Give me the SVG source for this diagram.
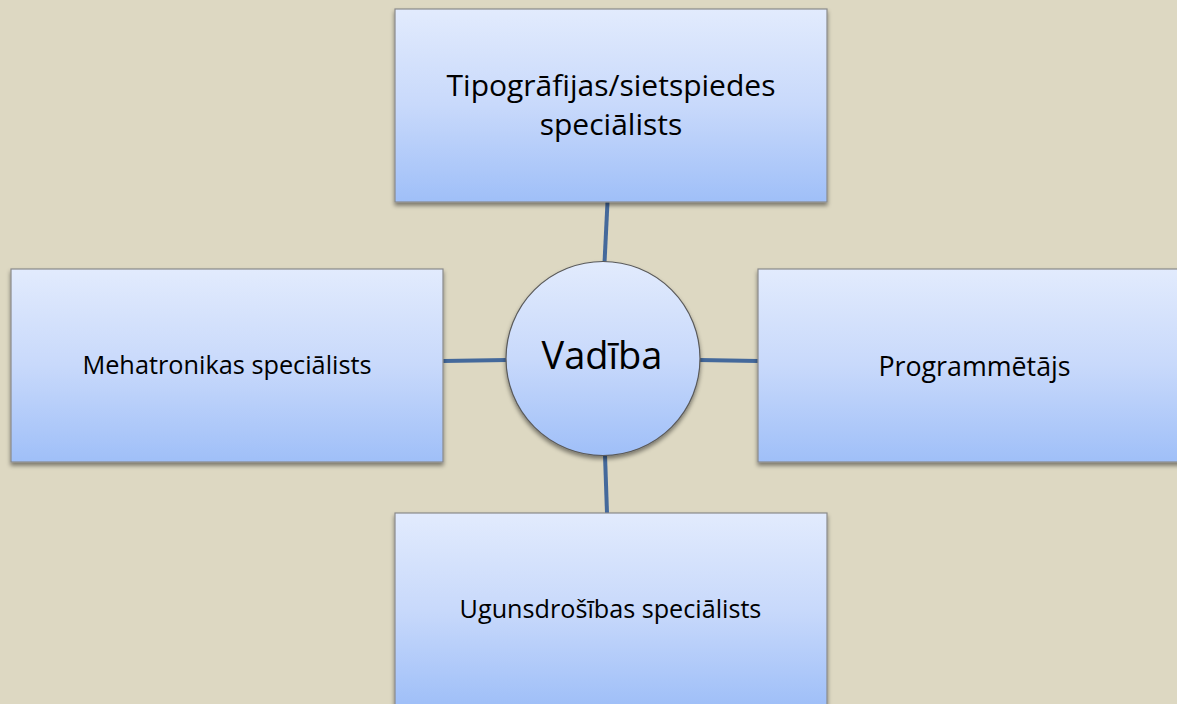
<svg xmlns="http://www.w3.org/2000/svg" width="1177" height="704" viewBox="0 0 1177 704">
  <defs>
    <linearGradient id="fill" x1="0" y1="0" x2="0" y2="1">
      <stop offset="0" stop-color="#e2ebfd"/>
      <stop offset="0.5" stop-color="#c8d9fb"/>
      <stop offset="1" stop-color="#9fbff8"/>
    </linearGradient>
    <filter id="shadow" x="-10%" y="-10%" width="120%" height="125%">
      <feDropShadow dx="0" dy="3" stdDeviation="2" flood-color="#000" flood-opacity="0.45"/>
    </filter>
    <style>
      .box { fill: url(#fill); stroke: #8a8a8a; stroke-width: 1.2; filter: url(#shadow); }
      .circ { fill: url(#fill); stroke: #5a5a5a; stroke-width: 1.2; filter: url(#shadow); }
      .conn { stroke: #44699b; stroke-width: 4; fill: none; }
      .lbl { font-family: "Open Sans", "Noto Sans", "DejaVu Sans", sans-serif; fill: #000; text-anchor: middle; }
    </style>
  </defs>
  <rect x="0" y="0" width="1177" height="704" fill="#ddd8c2"/>
  <g id="connectors">
    <line class="conn" x1="607.5" y1="202" x2="604.5" y2="263"/>
    <line class="conn" x1="605" y1="455" x2="607" y2="513"/>
    <line class="conn" x1="443" y1="361" x2="507" y2="360"/>
    <line class="conn" x1="699" y1="360" x2="758" y2="361"/>
  </g>
  <g id="node-top">
    <rect class="box" x="395" y="9" width="432" height="193"/>
    <text class="lbl" x="611" y="96" font-size="30">Tipogrāfijas/sietspiedes</text>
    <text class="lbl" x="611" y="135" font-size="30">speciālists</text>
  </g>
  <g id="node-left">
    <rect class="box" x="11" y="269" width="432" height="193"/>
    <text class="lbl" x="227" y="374" font-size="25.3">Mehatronikas speciālists</text>
  </g>
  <g id="node-right">
    <rect class="box" x="758" y="269" width="432" height="193"/>
    <text class="lbl" x="974.5" y="375.5" font-size="26.8">Programmētājs</text>
  </g>
  <g id="node-bottom">
    <rect class="box" x="395" y="513" width="432" height="193"/>
    <text class="lbl" x="610.5" y="617.5" font-size="25.2">Ugunsdrošības speciālists</text>
  </g>
  <g id="node-center">
    <circle class="circ" cx="603" cy="358.5" r="97"/>
    <text class="lbl" x="602" y="369" font-size="38">Vadība</text>
  </g>
</svg>
